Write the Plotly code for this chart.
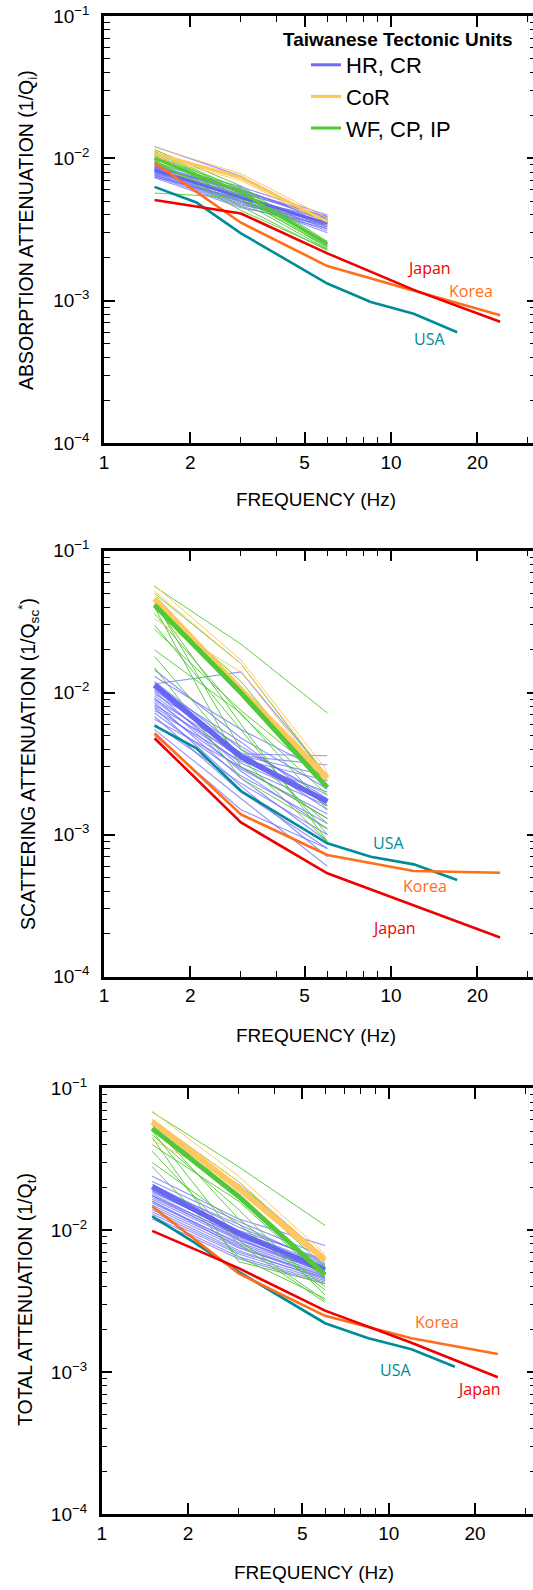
import plotly.graph_objects as go

W, H = 533, 1590

# ---------------- frequencies ----------------
FREQ_TW = [1.5, 3, 6]
FREQ_JK = [1.5, 3, 6, 12, 24]
FREQ_USA = [1.5, 2.1, 3, 6, 8.5, 12, 17]

# ---------------- panel 1 : absorption ----------------
ABS_JAPAN = [5.1e-3, 4.1e-3, 2.15e-3, 1.19e-3, 7.1e-4]
ABS_KOREA = [9.3e-3, 3.53e-3, 1.75e-3, 1.17e-3, 7.9e-4]
ABS_USA = [6.3e-3, 4.9e-3, 2.97e-3, 1.32e-3, 9.8e-4, 8.1e-4, 6.0e-4]

ABS_BLUE_F15 = [0.0121, 0.0092, 0.0090, 0.0089, 0.0088, 0.0087, 0.0086, 0.0085, 0.0084, 0.0083, 0.0082,
                0.0081, 0.0080, 0.0079, 0.0078, 0.0077, 0.0076, 0.0075, 0.0074, 0.0073, 0.0080, 0.0087]
ABS_BLUE_F3 = [0.0075, 0.0063, 0.0060, 0.0058, 0.0057, 0.0055, 0.0061, 0.0054, 0.0052, 0.0056, 0.0050,
               0.0053, 0.0049, 0.0051, 0.0048, 0.0047, 0.0050, 0.0046, 0.0052, 0.0045, 0.0055, 0.0059]
ABS_BLUE_F6 = [0.0036, 0.0040, 0.0038, 0.0037, 0.0039, 0.0035, 0.0036, 0.0034, 0.0037, 0.0033, 0.0035,
               0.0032, 0.0034, 0.0031, 0.0033, 0.0036, 0.0030, 0.0032, 0.0038, 0.0034, 0.0035, 0.0039]
ABS_ORANGE_F15 = [0.0120, 0.0110, 0.0105, 0.0102]
ABS_ORANGE_F3 = [0.0078, 0.0075, 0.0072, 0.0070]
ABS_ORANGE_F6 = [0.0038, 0.0036, 0.0035, 0.0034]
ABS_GREEN_F15 = [0.0115, 0.0112, 0.0110, 0.0107, 0.0105, 0.0103, 0.0100, 0.0097, 0.0095, 0.0092, 0.0057, 0.0096]
ABS_GREEN_F3 = [0.0064, 0.0060, 0.0058, 0.0056, 0.0050, 0.0062, 0.0054, 0.0046, 0.0059, 0.0052, 0.0053, 0.0043]
ABS_GREEN_F6 = [0.0026, 0.0025, 0.00245, 0.0024, 0.0023, 0.00255, 0.00235, 0.00225, 0.0025, 0.0024, 0.0026, 0.0023]
ABS_BLUE_MEAN = [0.0083, 0.0053, 0.0035]
ABS_ORANGE_MEAN = [0.0108, 0.0073, 0.0036]
ABS_GREEN_MEAN = [0.0100, 0.0058, 0.0025]

# ---------------- panel 2 : scattering ----------------
SCA_JAPAN = [4.78e-3, 1.22e-3, 5.35e-4, 3.2e-4, 1.89e-4]
SCA_KOREA = [5.18e-3, 1.39e-3, 7.19e-4, 5.55e-4, 5.4e-4]
SCA_USA = [5.86e-3, 4.06e-3, 2.03e-3, 8.69e-4, 7.0e-4, 6.18e-4, 4.8e-4]

SCA_BLUE_F15 = [0.0145, 0.0130, 0.0120, 0.0115, 0.0110, 0.0105, 0.0102, 0.0098, 0.0095, 0.0092, 0.0090, 0.0088,
                0.0085, 0.0082, 0.0080, 0.0078, 0.0075, 0.0072, 0.0068, 0.0065, 0.0060, 0.0055, 0.0050, 0.0115]
SCA_BLUE_F3 = [0.0048, 0.0055, 0.0040, 0.0037, 0.0045, 0.0036, 0.0030, 0.0042, 0.0034, 0.0028, 0.0038, 0.0032,
               0.0025, 0.0036, 0.0029, 0.0022, 0.0033, 0.0026, 0.0020, 0.0030, 0.0023, 0.0018, 0.0015, 0.0140]
SCA_BLUE_F6 = [0.0021, 0.0027, 0.0019, 0.0036, 0.0016, 0.0031, 0.0013, 0.0018, 0.0024, 0.0011, 0.0015, 0.0017,
               0.0009, 0.0026, 0.0014, 0.0007, 0.0020, 0.0012, 0.0008, 0.0016, 0.0010, 0.0006, 0.0008, 0.0026]
SCA_ORANGE_F15 = [0.057, 0.052, 0.033, 0.046]
SCA_ORANGE_F3 = [0.017, 0.016, 0.014, 0.011]
SCA_ORANGE_F6 = [0.0028, 0.0026, 0.0024, 0.0025]
SCA_GREEN_F15 = [0.056, 0.050, 0.044, 0.042, 0.040, 0.036, 0.030, 0.028, 0.020, 0.018, 0.015, 0.043]
SCA_GREEN_F3 = [0.022, 0.016, 0.0040, 0.0060, 0.0030, 0.0070, 0.0055, 0.0075, 0.0072, 0.0035, 0.0025, 0.012]
SCA_GREEN_F6 = [0.0072, 0.0025, 0.0012, 0.0009, 0.0013, 0.0019, 0.0010, 0.0024, 0.0015, 0.0009, 0.0011, 0.0022]
SCA_BLUE_MEAN = [0.0113, 0.00354, 0.00171]
SCA_ORANGE_MEAN = [0.046, 0.0105, 0.0025]
SCA_GREEN_MEAN = [0.0415, 0.0100, 0.00215]

# ---------------- panel 3 : total ----------------
TOT_JAPAN = [9.9e-3, 5.4e-3, 2.71e-3, 1.61e-3, 9.2e-4]
TOT_KOREA = [1.47e-2, 4.96e-3, 2.49e-3, 1.73e-3, 1.34e-3]
TOT_USA = [1.25e-2, 8.2e-3, 5.1e-3, 2.21e-3, 1.73e-3, 1.45e-3, 1.09e-3]

TOT_BLUE_F15 = [0.024, 0.022, 0.021, 0.020, 0.0195, 0.019, 0.0185, 0.018, 0.0175, 0.017, 0.0165, 0.016,
                0.0155, 0.015, 0.0145, 0.014, 0.0135, 0.013, 0.0125, 0.012, 0.0190, 0.0175, 0.0160, 0.050]
TOT_BLUE_F3 = [0.0120, 0.0115, 0.0105, 0.0110, 0.0100, 0.0095, 0.0098, 0.0090, 0.0092, 0.0088, 0.0085, 0.0080,
               0.0082, 0.0078, 0.0075, 0.0072, 0.0070, 0.0068, 0.0065, 0.0063, 0.0094, 0.0086, 0.0076, 0.021]
TOT_BLUE_F6 = [0.0078, 0.0065, 0.0060, 0.0058, 0.0062, 0.0055, 0.0057, 0.0053, 0.0056, 0.0050, 0.0052, 0.0049,
               0.0051, 0.0047, 0.0048, 0.0045, 0.0046, 0.0044, 0.0043, 0.0042, 0.0054, 0.0050, 0.0046, 0.0065]
TOT_ORANGE_F15 = [0.069, 0.043, 0.060, 0.057]
TOT_ORANGE_F3 = [0.024, 0.021, 0.022, 0.020]
TOT_ORANGE_F6 = [0.0068, 0.0060, 0.0065, 0.0063]
TOT_GREEN_F15 = [0.068, 0.060, 0.055, 0.050, 0.047, 0.040, 0.030, 0.028, 0.045, 0.052, 0.036, 0.058]
TOT_GREEN_F3 = [0.028, 0.022, 0.012, 0.0085, 0.014, 0.016, 0.011, 0.0065, 0.0060, 0.018, 0.0080, 0.020]
TOT_GREEN_F6 = [0.0108, 0.0060, 0.0040, 0.0032, 0.0035, 0.0045, 0.0038, 0.0033, 0.0042, 0.0050, 0.0031, 0.0055]
TOT_BLUE_MEAN = [0.0203, 0.0095, 0.00525]
TOT_ORANGE_MEAN = [0.0582, 0.0197, 0.00617]
TOT_GREEN_MEAN = [0.0522, 0.0173, 0.00485]

X_TICKS = [1, 2, 5, 10, 20]
X_MINOR = [3, 4, 6, 7, 8, 9, 30]
Y_TICKS = [1e-4, 1e-3, 1e-2, 1e-1]
Y_TICKTEXT = ["10<sup>\u22124</sup>", "10<sup>\u22123</sup>", "10<sup>\u22122</sup>", "10<sup>\u22121</sup>"]
Y_MINOR = [m * 10.0 ** e for e in (-4, -3, -2) for m in range(2, 10)]

LEGEND_NAMES = ["HR, CR", "CoR", "WF, CP, IP"]
LEGEND_COLORS = ["rgb(110,110,250)", "rgb(255,198,85)", "rgb(80,200,50)"]

# ---------------- styles ----------------
C_BLUE_THIN = "rgba(105,105,250,0.72)"
C_BLUE = "rgba(98,98,240,0.95)"
C_ORANGE_THIN = "rgba(255,196,80,0.9)"
C_ORANGE = "rgb(255,200,95)"
C_GREEN_THIN = "rgba(80,200,50,0.9)"
C_GREEN = "rgb(80,200,55)"
C_JAPAN = "rgb(240,0,0)"
C_KOREA = "rgb(255,110,25)"
C_USA = "rgb(0,140,150)"
FONT = "Liberation Sans, Arial, Helvetica, sans-serif"
LBL_FONT = "Open Sans, sans-serif"

# pixel geometry of the three panels: (left, top, bottom)
PANELS = [(104, 16, 443), (104, 550.7, 976.7), (101.7, 1088.3, 1514)]
DECADE_PX = 287.0
MEAN_WIDTHS = [(2.6, 2.6, 2.8), (5.5, 6, 5), (5.5, 6, 5)]

fig = go.Figure()

datasets = [
    (ABS_BLUE_F15, ABS_BLUE_F3, ABS_BLUE_F6, ABS_ORANGE_F15, ABS_ORANGE_F3, ABS_ORANGE_F6,
     ABS_GREEN_F15, ABS_GREEN_F3, ABS_GREEN_F6, ABS_BLUE_MEAN, ABS_ORANGE_MEAN, ABS_GREEN_MEAN,
     ABS_USA, ABS_KOREA, ABS_JAPAN),
    (SCA_BLUE_F15, SCA_BLUE_F3, SCA_BLUE_F6, SCA_ORANGE_F15, SCA_ORANGE_F3, SCA_ORANGE_F6,
     SCA_GREEN_F15, SCA_GREEN_F3, SCA_GREEN_F6, SCA_BLUE_MEAN, SCA_ORANGE_MEAN, SCA_GREEN_MEAN,
     SCA_USA, SCA_KOREA, SCA_JAPAN),
    (TOT_BLUE_F15, TOT_BLUE_F3, TOT_BLUE_F6, TOT_ORANGE_F15, TOT_ORANGE_F3, TOT_ORANGE_F6,
     TOT_GREEN_F15, TOT_GREEN_F3, TOT_GREEN_F6, TOT_BLUE_MEAN, TOT_ORANGE_MEAN, TOT_GREEN_MEAN,
     TOT_USA, TOT_KOREA, TOT_JAPAN),
]


def line(x, y, color, width, xa, ya, name=None, show=False):
    return go.Scatter(x=x, y=y, mode="lines", line=dict(color=color, width=width),
                      xaxis=xa, yaxis=ya, showlegend=show, name=name, hoverinfo="skip")


for i, d in enumerate(datasets):
    (b15, b3, b6, o15, o3, o6, g15, g3, g6, bm, om, gm, usa, kor, jap) = d
    n = i + 1
    xa = "x" if n == 1 else f"x{n}"
    ya = "y" if n == 1 else f"y{n}"
    yr = f"y{n + 3}"
    wb, wo, wg = MEAN_WIDTHS[i]
    for a, b, c in zip(b15, b3, b6):
        fig.add_trace(line(FREQ_TW, [a, b, c], C_BLUE_THIN, 1.1, xa, ya))
    for a, b, c in zip(g15, g3, g6):
        fig.add_trace(line(FREQ_TW, [a, b, c], C_GREEN_THIN, 1.0, xa, ya))
    for a, b, c in zip(o15, o3, o6):
        fig.add_trace(line(FREQ_TW, [a, b, c], C_ORANGE_THIN, 1.0, xa, ya))
    fig.add_trace(line(FREQ_TW, bm, C_BLUE, wb, xa, ya))
    fig.add_trace(line(FREQ_TW, om, C_ORANGE, wo, xa, ya))
    fig.add_trace(line(FREQ_TW, gm, C_GREEN, wg, xa, ya))
    fig.add_trace(line(FREQ_USA, usa, C_USA, 2.6, xa, ya))
    fig.add_trace(line(FREQ_JK, kor, C_KOREA, 2.6, xa, ya))
    fig.add_trace(line(FREQ_JK, jap, C_JAPAN, 2.6, xa, yr))

# legend entries (style only, no data points)
for nm, col in zip(LEGEND_NAMES, LEGEND_COLORS):
    fig.add_trace(go.Scatter(x=[None], y=[None], mode="lines", line=dict(color=col, width=3),
                             name=nm, showlegend=True, hoverinfo="skip"))

layout = dict(
    width=W, height=H, autosize=False,
    margin=dict(l=0, r=0, t=0, b=0, pad=0),
    paper_bgcolor="white", plot_bgcolor="white",
    font=dict(family=FONT, size=18, color="black"),
    showlegend=True,
    legend=dict(x=306 / W, y=1 - 44 / H, xanchor="left", yanchor="top",
                bgcolor="rgba(0,0,0,0)", borderwidth=0,
                font=dict(family=FONT, size=22, color="black"),
                tracegroupgap=0, itemclick=False, itemdoubleclick=False),
)

for i, (left, top, bottom) in enumerate(PANELS):
    n = i + 1
    xk = "xaxis" if n == 1 else f"xaxis{n}"
    yk = "yaxis" if n == 1 else f"yaxis{n}"
    xr = (W - left) / DECADE_PX
    layout[xk] = dict(
        type="log", range=[0, xr], domain=[left / W, 1], anchor="y" if n == 1 else f"y{n}",
        tickmode="array", tickvals=X_TICKS, ticktext=[str(t) for t in X_TICKS],
        ticks="inside", ticklen=11, tickwidth=1.5, tickcolor="black",
        showline=True, linewidth=2.5, linecolor="black", mirror="ticks",
        showgrid=False, zeroline=False, automargin=False, ticklabelstandoff=0,
        tickfont=dict(family=FONT, size=19, color="black"),
        minor=dict(tickmode="array", tickvals=X_MINOR, ticks="inside", ticklen=6,
                   tickwidth=1.2, tickcolor="black", showgrid=False),
        fixedrange=True,
    )
    ydom = [1 - bottom / H, 1 - top / H]
    layout[yk] = dict(
        type="log", range=[-4, -1], domain=ydom, anchor="x" if n == 1 else f"x{n}",
        tickmode="array", tickvals=Y_TICKS, ticktext=Y_TICKTEXT,
        ticks="inside", ticklen=11, tickwidth=1.5, tickcolor="black",
        showline=True, linewidth=2.5, linecolor="black", mirror=False,
        showgrid=False, zeroline=False, automargin=False, ticklabelstandoff=8,
        tickfont=dict(family=FONT, size=19, color="black"),
        minor=dict(tickmode="array", tickvals=Y_MINOR, ticks="inside", ticklen=6,
                   tickwidth=1.2, tickcolor="black", showgrid=False),
        fixedrange=True,
    )
    layout[f"yaxis{n + 3}"] = dict(
        type="log", range=[-4, -1], overlaying="y" if n == 1 else f"y{n}", side="right",
        anchor="x" if n == 1 else f"x{n}",
        tickmode="array", tickvals=Y_TICKS, showticklabels=False,
        ticks="inside", ticklen=6, tickwidth=1.5, tickcolor="black",
        showline=False, showgrid=False, zeroline=False, automargin=False,
        minor=dict(tickmode="array", tickvals=Y_MINOR, ticks="inside", ticklen=3,
                   tickwidth=1.2, tickcolor="black", showgrid=False),
        fixedrange=True,
    )

fig.update_layout(**layout)


def ann(text, px, py, size=18, color="black", angle=0, family=FONT):
    fig.add_annotation(text=text, x=px / W, y=1 - py / H, xref="paper", yref="paper",
                       xanchor="center", yanchor="middle", showarrow=False, textangle=angle,
                       font=dict(family=family, size=size, color=color))


ann("ABSORPTION ATTENUATION (1/Q<sub>i</sub>)", 28, 230, size=19.5, angle=-90)
ann("SCATTERING ATTENUATION (1/Q<sub>sc</sub><sup>*</sup>)", 28, 764, size=19.5, angle=-90)
ann("TOTAL ATTENUATION (1/Q<sub>t</sub>)", 26, 1300, size=19.5, angle=-90)
ann("FREQUENCY (Hz)", 316, 500, size=19)
ann("FREQUENCY (Hz)", 316, 1035, size=19)
ann("FREQUENCY (Hz)", 314, 1572, size=19)
ann("<b>Taiwanese Tectonic Units</b>", 397, 40, size=19)

ann("Japan", 429, 268, 16, C_JAPAN, family=LBL_FONT)
ann("Korea", 471, 291, 16, C_KOREA, family=LBL_FONT)
ann("USA", 429, 339, 16, C_USA, family=LBL_FONT)
ann("USA", 388, 843, 16, C_USA, family=LBL_FONT)
ann("Korea", 425, 886, 16, C_KOREA, family=LBL_FONT)
ann("Japan", 394, 928, 16, C_JAPAN, family=LBL_FONT)
ann("Korea", 437, 1322, 16, C_KOREA, family=LBL_FONT)
ann("USA", 395, 1370, 16, C_USA, family=LBL_FONT)
ann("Japan", 479, 1389, 16, C_JAPAN, family=LBL_FONT)

fig.write_html("out.html", config={"displayModeBar": False},
               post_script="document.body.style.margin='0';document.body.style.overflow='hidden';")
